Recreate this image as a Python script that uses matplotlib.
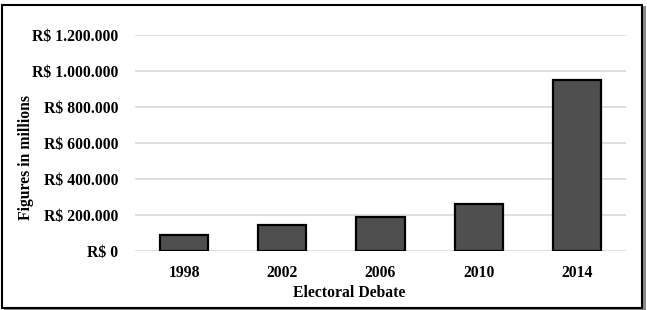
import matplotlib
matplotlib.use("Agg")
import matplotlib.pyplot as plt
from matplotlib.patches import Rectangle

years = ["1998", "2002", "2006", "2010", "2014"]
values = [89000, 146000, 187000, 259000, 950000]
yticks = [0, 200000, 400000, 600000, 800000, 1000000, 1200000]
ytick_labels = ["R$ 0", "R$ 200.000", "R$ 400.000", "R$ 600.000", "R$ 800.000", "R$ 1.000.000", "R$ 1.200.000"]

W, H = 647, 310
fig = plt.figure(figsize=(W / 100, H / 100), dpi=100)
plt.rcParams['font.family'] = ['Liberation Serif', 'DejaVu Serif']

# frame with shadow
fig.patches.append(Rectangle((4 / W, 1 - 310 / H), 642 / W, 304 / H, transform=fig.transFigure,
                             facecolor='#8a8a8a', edgecolor='none', zorder=0))
fig.patches.append(Rectangle((1.5 / W, 1 - 307.5 / H), 640 / W, 303 / H, transform=fig.transFigure,
                             facecolor='white', edgecolor='black', linewidth=1.5, zorder=1))

ax = fig.add_axes([135 / W, 1 - 251 / H, (626 - 135) / W, (251 - 35) / H])
ax.set_zorder(2)
ax.patch.set_alpha(0)
x = range(len(years))
ax.bar(x, values, width=0.49, color='#4f4f4f', edgecolor='black', linewidth=1.6, zorder=3)
ax.set_xlim(-0.5, len(years) - 0.5)
ax.set_ylim(0, 1200000)
ax.set_yticks(yticks)
ax.set_yticklabels(ytick_labels, fontsize=11.3, fontweight='bold')
ax.set_xticks(list(x))
ax.set_xticklabels(years, fontsize=11.3, fontweight='bold')
ax.tick_params(axis='both', length=0)
ax.tick_params(axis='y', pad=12)
ax.tick_params(axis='x', pad=10)
ax.grid(axis='y', color='#d9d9d9', linewidth=1.2, zorder=0)
for s in ax.spines.values():
    s.set_visible(False)
fig.text(349 / W, 1 - 293 / H, "Electoral Debate", fontsize=11.3, fontweight='bold',
         ha='center', va='center', zorder=5)
fig.text(26 / W, 1 - 157 / H, "Figures in millions", fontsize=11.3, fontweight='bold',
         ha='center', va='center', rotation=90, zorder=5)

fig.savefig("out.png", dpi=100)
